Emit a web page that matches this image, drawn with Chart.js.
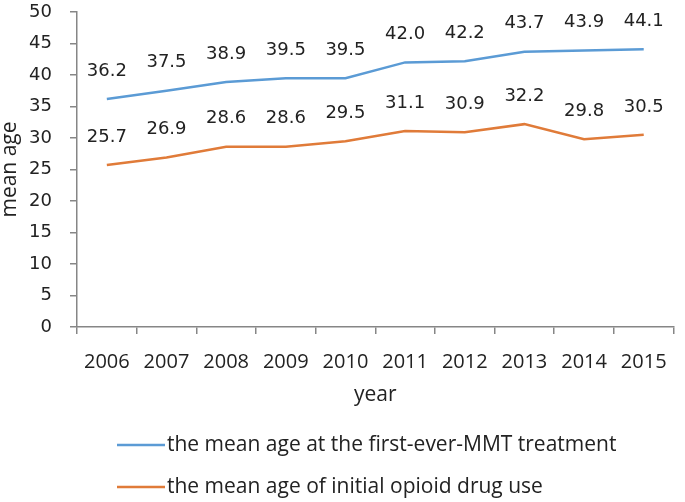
<!DOCTYPE html>
<html>
<head>
<meta charset="utf-8">
<script src="https://cdn.jsdelivr.net/npm/chart.js@4/dist/chart.umd.min.js"></script>
<style>
    html, body { margin: 0; padding: 0; background: #fff; }
    .chart-wrap { width: 685px; height: 502px; position: relative; }
</style>
</head>
<body>
<div class="chart-wrap"><canvas id="age-chart"></canvas></div>
<script>
/*
 * Mean age per year: first-ever MMT treatment vs. initial opioid drug use.
 * Values.
 */
var years = ['2006', '2007', '2008', '2009', '2010', '2011', '2012', '2013', '2014', '2015'];
var mmtAge = [36.2, 37.5, 38.9, 39.5, 39.5, 42.0, 42.2, 43.7, 43.9, 44.1];
var opioidAge = [25.7, 26.9, 28.6, 28.6, 29.5, 31.1, 30.9, 32.2, 29.8, 30.5];
var seriesNames = [
    'the mean age at the first-ever-MMT treatment',
    'the mean age of initial opioid drug use'
];
var yTicks = [0, 5, 10, 15, 20, 25, 30, 35, 40, 45, 50];

(function () {
    var AXIS = '#868686';
    var TEXT = '#222';
    var colors = ['#5b9bd5', '#e07b39'];

    // value labels above each point (Excel style)
    var valueLabels = {
        id: 'valueLabels',
        afterDatasetsDraw: function (chart) {
            var ctx = chart.ctx;
            ctx.save();
            ctx.font = '18px "DejaVu Sans"';
            ctx.fillStyle = TEXT;
            ctx.textAlign = 'center';
            ctx.textBaseline = 'middle';
            chart.data.datasets.forEach(function (ds, i) {
                chart.getDatasetMeta(i).data.forEach(function (pt, j) {
                    ctx.fillText(ds.data[j].toFixed(1), pt.x, pt.y - 28);
                });
            });
            ctx.restore();
        }
    };

    // stacked legend, left aligned
    var stackedLegend = {
        id: 'stackedLegend',
        afterDraw: function (chart) {
            var ctx = chart.ctx;
            var rows = [445, 487];
            ctx.save();
            ctx.font = '21px "Open Sans"';
            ctx.textBaseline = 'middle';
            ctx.fillStyle = TEXT;
            chart.data.datasets.forEach(function (ds, i) {
                var y = rows[i];
                ctx.strokeStyle = ds.borderColor;
                ctx.lineWidth = 2.5;
                ctx.beginPath();
                ctx.moveTo(117, y);
                ctx.lineTo(165, y);
                ctx.stroke();
                ctx.fillText(ds.label, 167, y);
            });
            ctx.restore();
        }
    };

    new Chart(document.getElementById('age-chart'), {
        type: 'line',
        data: {
            labels: years,
            datasets: [
                { label: seriesNames[0], data: mmtAge, borderColor: colors[0], borderWidth: 2.5, pointRadius: 0, tension: 0 },
                { label: seriesNames[1], data: opioidAge, borderColor: colors[1], borderWidth: 2.5, pointRadius: 0, tension: 0 }
            ]
        },
        options: {
            responsive: true,
            maintainAspectRatio: false,
            animation: false,
            layout: { padding: { top: 12, right: 8, bottom: 96, left: 0 } },
            plugins: {
                legend: { display: false },
                tooltip: { enabled: false }
            },
            scales: {
                x: {
                    offset: true,
                    grid: { display: true, offset: true, drawOnChartArea: false, drawTicks: true, tickLength: 7, color: AXIS, lineWidth: 1.5 },
                    border: { color: AXIS, width: 1.5 },
                    ticks: { color: TEXT, padding: 18, maxRotation: 0, font: { size: 20, family: 'Open Sans', lineHeight: 1 } },
                    title: { display: true, text: 'year', color: TEXT, padding: { top: -5, bottom: 0 }, font: { size: 21, family: 'Open Sans', lineHeight: 1 } }
                },
                y: {
                    min: 0,
                    max: 50,
                    afterBuildTicks: function (scale) {
                        scale.ticks = yTicks.map(function (v) { return { value: v }; });
                    },
                    afterFit: function (scale) {
                        scale.width = 77;
                        scale.paddingTop = 0;
                        scale.paddingBottom = 0;
                    },
                    grid: { display: true, drawOnChartArea: false, drawTicks: true, tickLength: 7, color: AXIS, lineWidth: 1.5 },
                    border: { color: AXIS, width: 1.5 },
                    ticks: { color: TEXT, padding: 18, font: { size: 18, family: 'DejaVu Sans' } },
                    title: { display: true, text: 'mean age', color: TEXT, padding: { top: 0, bottom: 0 }, font: { size: 21, family: 'Open Sans', lineHeight: 1 } }
                }
            }
        },
        plugins: [valueLabels, stackedLegend]
    });
})();
</script>
</body>
</html>
